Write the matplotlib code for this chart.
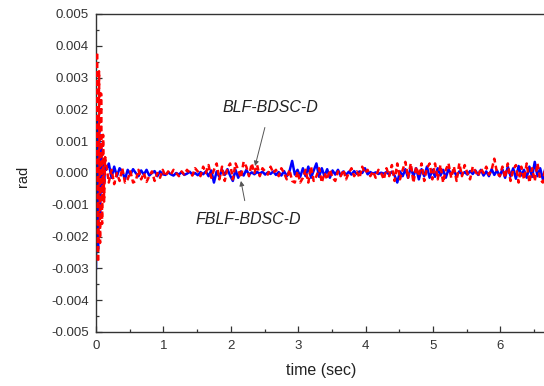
import numpy as np
import matplotlib
matplotlib.use("Agg")
import matplotlib.pyplot as plt
from matplotlib.ticker import MultipleLocator, FormatStrFormatter

plt.rcParams['font.family'] = ['Liberation Sans', 'DejaVu Sans']

# ---- data (values in mrad, converted to rad below) ----
t_transient = [0.000, 0.015, 0.030, 0.045, 0.060, 0.075, 0.090, 0.105, 0.120, 0.135]
red_transient = [0.0, 3.8, -2.8, 3.2, -2.2, 2.5, -1.6, 1.2, -0.9, 0.5]
blue_transient = [-3.0, 1.8, -2.4, 1.3, -1.3, 0.8, -0.6, 0.4, -0.3, 0.2]

# sampling times of the steady part: 0.15 s ... 6.75 s every 0.04 s
t_steady = np.round(0.15 + 0.04 * np.arange(166), 3)

blue_steady = [
    0.1, 0.3, -0.15, 0.2, -0.1, 0.15, 0.05, -0.2, 0.1, -0.05, 0.12, 0.0, -0.1, 0.08, -0.05, 0.1, -0.08, 0.0, 0.06, -0.1, 0.05, -0.04,
    -0.06, 0.02, -0.04, -0.08, 0.0, -0.05, 0.03, -0.06, -0.02, 0.04, -0.05, 0.0, -0.07, 0.03, -0.04, 0.05, -0.1, 0.08, -0.3, 0.05, -0.12, 0.1, -0.06, 0.12, -0.08,
    -0.25, 0.1, -0.15, 0.05, -0.08, 0.1, -0.05, 0.02, -0.04, 0.03, -0.02, 0.04, -0.05, 0.02, -0.03, 0.05, -0.06, 0.03, -0.08, 0.06, -0.1, 0.05, 0.38, -0.05, 0.1,
    -0.12, 0.15, -0.1, 0.2, -0.15, 0.08, 0.3, -0.12, 0.15, -0.1, 0.12, -0.15, 0.08, -0.05, 0.1, -0.08, 0.05, -0.06, 0.04, -0.05, 0.06, -0.03, 0.05, 0.0, 0.15,
    -0.04, 0.03, -0.02, 0.02, -0.03, 0.01, -0.02, 0.03, -0.05, 0.04, -0.08, -0.3, 0.05, -0.1, 0.12, -0.15, 0.18, -0.1, 0.15, -0.2, 0.12, -0.1, 0.2, -0.15, 0.1,
    -0.12, 0.15, -0.08, 0.1, -0.15, 0.12, -0.05, 0.08, -0.1, 0.05, -0.04, 0.03, -0.05, 0.06, -0.03, 0.08, -0.06, 0.1, -0.08, 0.05, -0.1, 0.12, -0.06, 0.08, -0.1,
    0.12, -0.15, 0.2, -0.1, 0.15, -0.18, 0.22, -0.08, 0.1, -0.15, 0.2, -0.12, 0.35, -0.1, 0.15, -0.2, 0.18, -0.05, 0.25,
]
red_steady = [
    0.3, -0.3, 0.1, -0.35, 0.0, -0.25, 0.15, -0.3, -0.2, 0.05, -0.3, -0.25, 0.1, -0.2, 0.0, -0.28, -0.1, 0.05, -0.25, 0.0, -0.15, 0.1,
    -0.1, 0.05, -0.05, 0.1, 0.0, -0.1, 0.05, -0.05, 0.1, 0.0, -0.08, 0.15, 0.05, -0.1, 0.2, 0.0, 0.25, -0.15, 0.1, 0.3, -0.2, 0.2, -0.25, 0.15, 0.3,
    -0.2, 0.3, 0.1, -0.15, 0.35, 0.2, -0.1, 0.3, 0.0, 0.25, -0.1, 0.15, 0.05, -0.05, 0.2, 0.0, 0.1, -0.1, 0.15, 0.0, -0.2, 0.1, -0.25, -0.3, 0.05,
    -0.3, -0.15, 0.1, -0.3, 0.2, -0.25, -0.1, 0.15, -0.3, 0.0, -0.2, 0.1, -0.15, -0.25, 0.05, -0.1, 0.1, -0.2, 0.0, 0.15, -0.1, 0.05, -0.15, 0.2, 0.0,
    0.1, -0.1, 0.05, -0.15, 0.1, 0.0, -0.2, 0.15, -0.1, 0.25, -0.25, 0.3, -0.2, 0.1, 0.35, -0.15, 0.3, -0.3, 0.2, -0.1, 0.3, -0.25, 0.15, 0.3, -0.2,
    0.3, -0.2, 0.25, -0.3, 0.1, 0.3, -0.15, 0.2, -0.25, 0.3, -0.1, 0.25, 0.0, -0.2, 0.2, 0.05, -0.1, 0.15, 0.0, 0.2, -0.05, 0.1, 0.45, 0.0, -0.1,
    0.2, -0.15, 0.3, -0.25, 0.1, 0.25, -0.3, 0.2, -0.2, 0.3, -0.3, 0.15, -0.25, 0.3, -0.2, -0.3, 0.25, -0.15, 0.2,
]

x_ticks = [0, 1, 2, 3, 4, 5, 6]
y_ticks = [-0.005, -0.004, -0.003, -0.002, -0.001, 0.0, 0.001, 0.002, 0.003, 0.004, 0.005]
label_blf = 'BLF-BDSC-D'
label_fblf = 'FBLF-BDSC-D'

t_all = np.concatenate([t_transient, t_steady])
blue = np.concatenate([blue_transient, blue_steady]) * 1e-3
red = np.concatenate([red_transient, red_steady]) * 1e-3

# ---- figure ----
fig = plt.figure(figsize=(5.44, 3.86), dpi=100)
W, H = 544, 386
left_px, px_per_unit = 96, 67.4
xmax = 7
ax_w_px = xmax * px_per_unit
ax = fig.add_axes([left_px / W, (H - 332) / H, ax_w_px / W, (332 - 14) / H])

ax.plot(t_all, blue, color='#0000ff', lw=1.8, zorder=2)
ax.plot(t_all, red, color='#ff0000', lw=1.8, dashes=(2.2, 1.3), zorder=3)

ax.set_xlim(0, xmax)
ax.set_ylim(-0.005, 0.005)
ax.set_xticks(x_ticks)
ax.set_yticks(y_ticks)
ax.xaxis.set_minor_locator(MultipleLocator(0.5))
ax.yaxis.set_minor_locator(MultipleLocator(0.0005))
ax.yaxis.set_major_formatter(FormatStrFormatter('%.3f'))
ax.tick_params(which='both', direction='in', top=False, right=False,
               colors='#333333', labelsize=9.5, width=0.9)
ax.tick_params(axis='x', which='major', pad=6)
ax.tick_params(axis='y', which='major', pad=5)
ax.tick_params(which='major', length=4)
ax.tick_params(which='minor', length=2.5)
for s in ax.spines.values():
    s.set_color('#333333')
    s.set_linewidth(1.0)
ax.spines['right'].set_visible(False)

ax.set_xlabel('time (sec)', fontsize=11.5, color='#222222')
ax.xaxis.set_label_coords(3.34 / xmax, -0.097)
ax.set_ylabel('rad', fontsize=10.5, color='#222222')
ax.yaxis.set_label_coords(-(left_px - 30) / ax_w_px, 0.49)

ax.annotate(label_blf, xy=(2.36, 0.00022), xytext=(2.58, 0.00205),
            fontsize=11.5, style='italic', color='#222222', ha='center', va='center',
            arrowprops=dict(arrowstyle='-|>', color='#555555', lw=0.7,
                            mutation_scale=7, shrinkA=7, shrinkB=0))
ax.annotate(label_fblf, xy=(2.15, -0.00025), xytext=(2.26, -0.00145),
            fontsize=11.5, style='italic', color='#222222', ha='center', va='center',
            arrowprops=dict(arrowstyle='-|>', color='#555555', lw=0.7,
                            mutation_scale=7, shrinkA=6, shrinkB=0))

fig.savefig('out.png', dpi=100)
